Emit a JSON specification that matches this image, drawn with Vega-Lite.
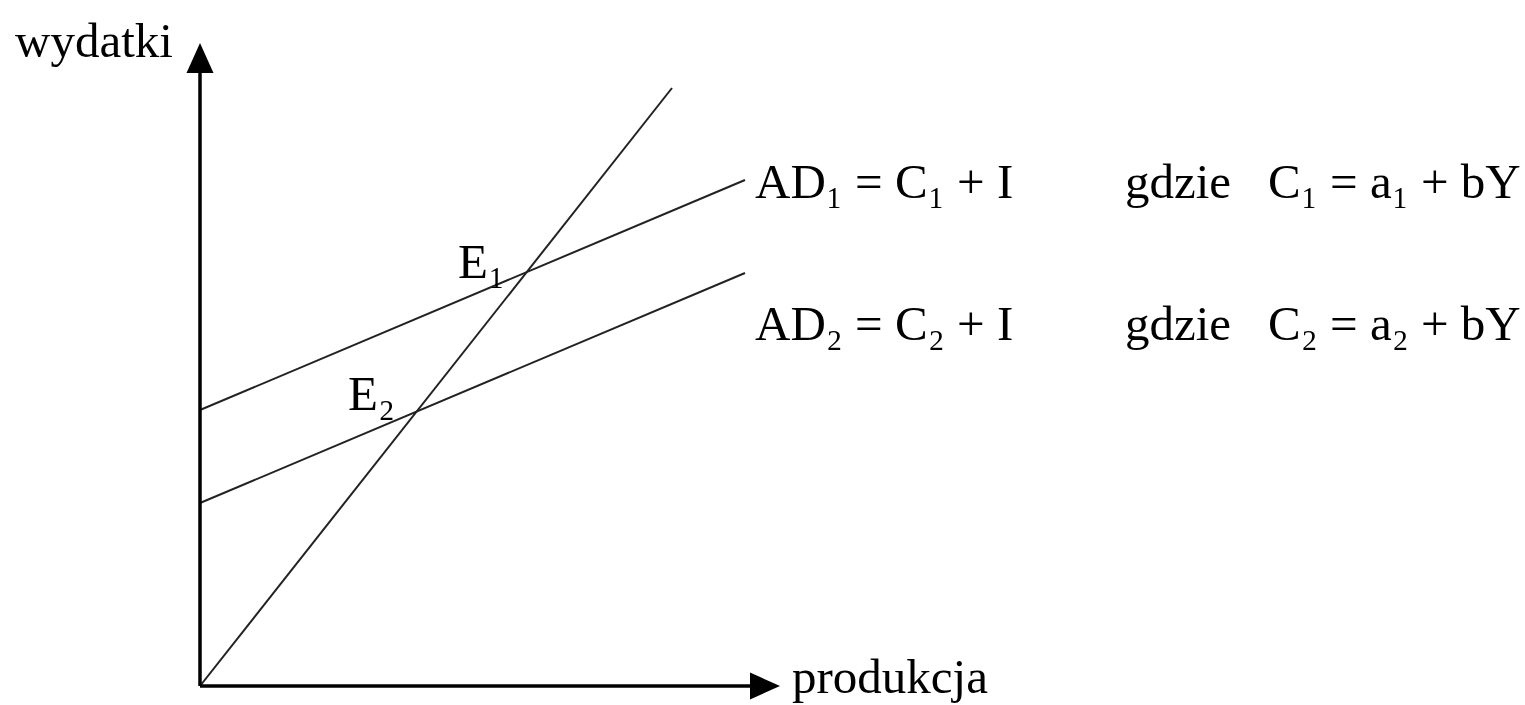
{
  "$schema": "https://vega.github.io/schema/vega-lite/v6.json",
  "width": 1525,
  "height": 705,
  "padding": 0,
  "autosize": {"type": "fit", "contains": "padding"},
  "background": "white",
  "config": {"view": {"stroke": null}},
  "datasets": {
    "lines": [
      {"series": "Y", "x": 0, "y": 0},
      {"series": "Y", "x": 472, "y": 598},
      {"series": "AD1", "x": 0, "y": 276},
      {"series": "AD1", "x": 545, "y": 506},
      {"series": "AD2", "x": 0, "y": 183},
      {"series": "AD2", "x": 545, "y": 413}
    ],
    "axes": [
      {"axis": "y", "x": 0, "y": 0, "x2": 0, "y2": 630},
      {"axis": "x", "x": 0, "y": 0, "x2": 565, "y2": 0}
    ],
    "arrowY": [{"x": 0, "y": 628}],
    "arrowX": [{"x": 565, "y": 0}],
    "labels": [
      {"label": "wydatki", "x": -185, "y": 629},
      {"label": "produkcja", "x": 592, "y": -7},
      {"label": "AD₁ = C₁ + I", "x": 555, "y": 488},
      {"label": "gdzie", "x": 925, "y": 488},
      {"label": "C₁ = a₁ + bY", "x": 1068, "y": 488},
      {"label": "AD₂ = C₂ + I", "x": 555, "y": 346},
      {"label": "gdzie", "x": 925, "y": 346},
      {"label": "C₂ = a₂ + bY", "x": 1068, "y": 346},
      {"label": "E₁", "x": 258, "y": 408},
      {"label": "E₂", "x": 148, "y": 276}
    ]
  },
  "layer": [
    {
      "data": {"name": "lines"},
      "mark": {"type": "line", "color": "#222222", "strokeWidth": 2},
      "encoding": {
        "x": {"field": "x", "type": "quantitative", "scale": {"domain": [-200, 1325], "nice": false, "zero": false}, "axis": null},
        "y": {"field": "y", "type": "quantitative", "scale": {"domain": [-19, 686], "nice": false, "zero": false}, "axis": null},
        "detail": {"field": "series"}
      }
    },
    {
      "data": {"name": "axes"},
      "mark": {"type": "rule", "color": "black", "strokeWidth": 3.5},
      "encoding": {
        "x": {"field": "x", "type": "quantitative", "scale": {"domain": [-200, 1325], "nice": false, "zero": false}, "axis": null},
        "y": {"field": "y", "type": "quantitative", "scale": {"domain": [-19, 686], "nice": false, "zero": false}, "axis": null},
        "x2": {"field": "x2"},
        "y2": {"field": "y2"}
      }
    },
    {
      "data": {"name": "arrowY"},
      "mark": {"type": "point", "filled": true, "color": "black", "opacity": 1, "size": 900, "strokeWidth": 0, "shape": "M0,-1L0.9,1L-0.9,1Z"},
      "encoding": {
        "x": {"field": "x", "type": "quantitative", "scale": {"domain": [-200, 1325], "nice": false, "zero": false}, "axis": null},
        "y": {"field": "y", "type": "quantitative", "scale": {"domain": [-19, 686], "nice": false, "zero": false}, "axis": null}
      }
    },
    {
      "data": {"name": "arrowX"},
      "mark": {"type": "point", "filled": true, "color": "black", "opacity": 1, "size": 900, "strokeWidth": 0, "shape": "M1,0L-1,-0.9L-1,0.9Z"},
      "encoding": {
        "x": {"field": "x", "type": "quantitative", "scale": {"domain": [-200, 1325], "nice": false, "zero": false}, "axis": null},
        "y": {"field": "y", "type": "quantitative", "scale": {"domain": [-19, 686], "nice": false, "zero": false}, "axis": null}
      }
    },
    {
      "data": {"name": "labels"},
      "mark": {"type": "text", "font": "Liberation Serif", "fontSize": 49, "align": "left", "baseline": "alphabetic", "color": "black"},
      "encoding": {
        "x": {"field": "x", "type": "quantitative", "scale": {"domain": [-200, 1325], "nice": false, "zero": false}, "axis": null},
        "y": {"field": "y", "type": "quantitative", "scale": {"domain": [-19, 686], "nice": false, "zero": false}, "axis": null},
        "text": {"field": "label"}
      }
    }
  ]
}
